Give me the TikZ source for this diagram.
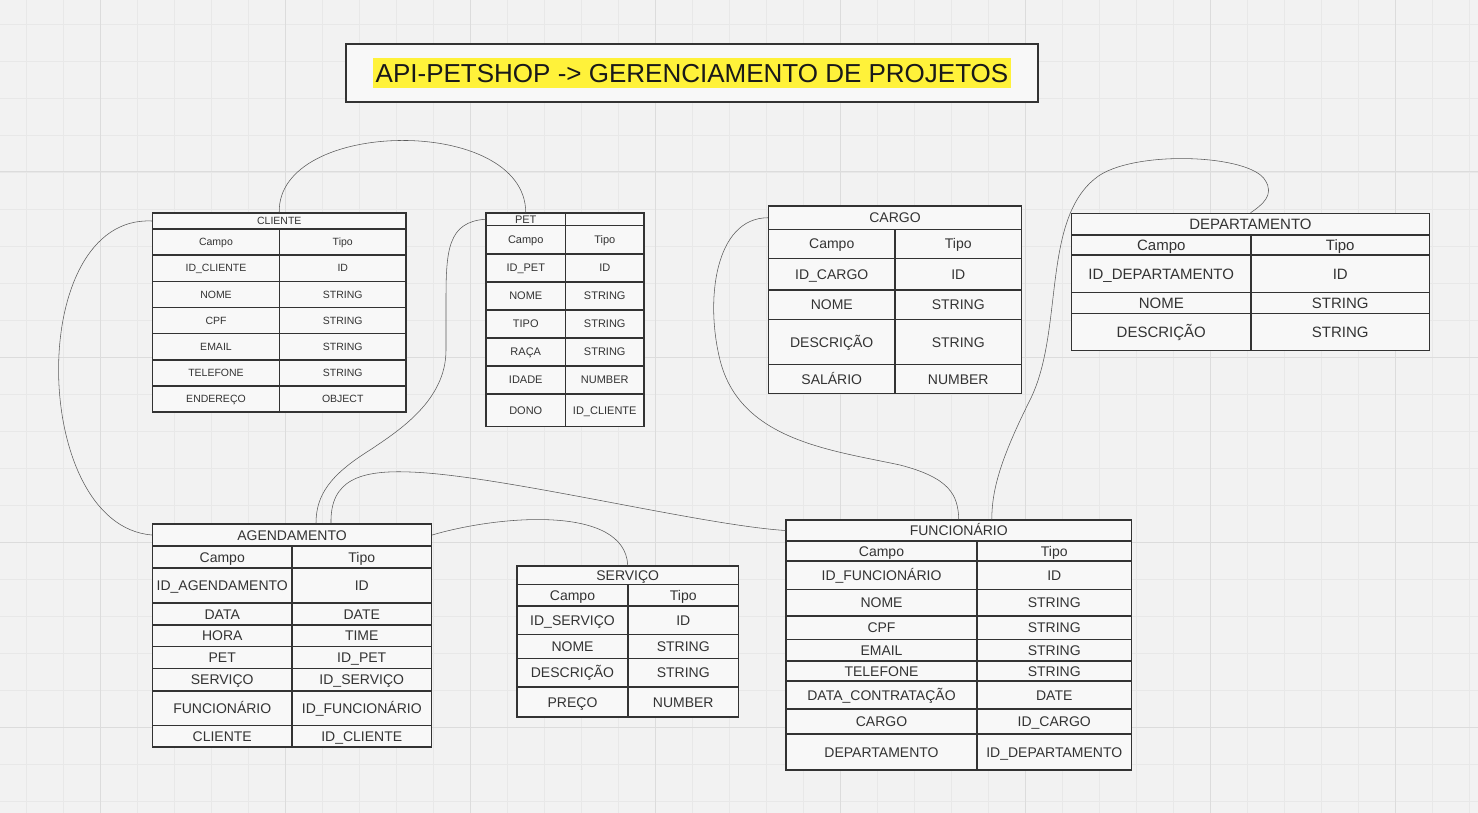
\documentclass[tikz,border=0pt]{standalone}
\usepackage{fontspec}
\setmainfont{Liberation Sans}
\definecolor{bgc}{HTML}{F2F2F2}
\definecolor{minorc}{HTML}{E8E8E8}
\definecolor{majorc}{HTML}{DCDCDC}
\definecolor{linec}{HTML}{333333}
\definecolor{cellfill}{HTML}{F8F8F8}
\definecolor{txtc}{HTML}{333333}
\definecolor{connc}{HTML}{5A5A5A}
\definecolor{hl}{HTML}{FFF23A}
\tikzset{
  cellbox/.style={draw=linec, line width=1.3pt, fill=cellfill, inner sep=0pt, text=txtc, align=center},
  framebox/.style={draw=linec, line width=1.4pt, inner sep=0pt},
  conn/.style={draw=connc, line width=0.55pt},
  titlebox/.style={draw=linec, line width=1.2pt, fill=cellfill, inner sep=0pt},
  capbox/.style={every node/.append style={text height=#1, text depth=0pt}},
}
% cell: name, x0, y0, x1, y1, text
\newcommand\tc[6]{\node[cellbox, minimum width={(#4)-(#2)}, minimum height={(#5)-(#3)}] (#1) at ({((#2)+(#4))/2},{((#3)+(#5))/2}) {#6};}
% row: name, x0, x1, x2, y0, y1, left, right
\newcommand\tr[8]{\tc{#1a}{#2}{#5}{#3}{#6}{#7}\tc{#1b}{#3}{#5}{#4}{#6}{#8}}
% frame: name, x0, y0, x1, y1
\newcommand\tf[5]{\node[framebox, minimum width={(#4)-(#2)}, minimum height={(#5)-(#3)}, text height=0pt] (#1) at ({((#2)+(#4))/2},{((#3)+(#5))/2}) {};}
\begin{document}
\begin{tikzpicture}[x=1pt,y=-1pt]
\useasboundingbox (0,0) rectangle (1478,813);
\fill[bgc] (0,0) rectangle (1478,813);
\foreach \x in {26,63,...,1478} \draw[minorc, line width=0.8pt] (\x,0) -- (\x,813);
\foreach \y in {24,61,...,813} \draw[minorc, line width=0.8pt] (0,\y) -- (1478,\y);
\foreach \x in {100,285,...,1478} \draw[majorc, line width=1pt] (\x,0) -- (\x,813);
\foreach \y in {172,357,...,813} \draw[majorc, line width=1pt] (0,\y) -- (1478,\y);

% title
\node[titlebox, minimum width=692, minimum height=58] (titleframe) at (692,73) {};
\node[fill=hl, inner xsep=3pt, inner ysep=0pt, minimum height=30, text height=18.6pt, text depth=0pt, text=black!90, font=\fontsize{26}{30}\selectfont] (title) at (692,73) {API-PETSHOP -> GERENCIAMENTO DE PROJETOS};

% CLIENTE
\begin{scope}[font=\fontsize{10.5}{12}\selectfont, capbox=7.5pt]
\tc{clt}{152.5}{213}{406}{229}{CLIENTE}
\tr{cl1}{152.5}{279.5}{406}{229}{255}{Campo}{Tipo}
\tr{cl2}{152.5}{279.5}{406}{255}{281.5}{ID\_CLIENTE}{ID}
\tr{cl3}{152.5}{279.5}{406}{281.5}{307.5}{NOME}{STRING}
\tr{cl4}{152.5}{279.5}{406}{307.5}{333.5}{CPF}{STRING}
\tr{cl5}{152.5}{279.5}{406}{333.5}{360}{EMAIL}{STRING}
\tr{cl6}{152.5}{279.5}{406}{360}{386}{TELEFONE}{STRING}
\tr{cl7}{152.5}{279.5}{406}{386}{412}{ENDEREÇO}{OBJECT}
\tf{cliente}{152.5}{213}{406}{412}
\end{scope}

% PET
\begin{scope}[font=\fontsize{11}{13}\selectfont, capbox=7.9pt]
\tr{pett}{486}{565.5}{644}{213}{225.5}{PET}{}
\tr{pe1}{486}{565.5}{644}{225.5}{254}{Campo}{Tipo}
\tr{pe2}{486}{565.5}{644}{254}{282}{ID\_PET}{ID}
\tr{pe3}{486}{565.5}{644}{282}{310}{NOME}{STRING}
\tr{pe4}{486}{565.5}{644}{310}{338}{TIPO}{STRING}
\tr{pe5}{486}{565.5}{644}{338}{366}{RAÇA}{STRING}
\tr{pe6}{486}{565.5}{644}{366}{394}{IDADE}{NUMBER}
\tr{pe7}{486}{565.5}{644}{394}{426.5}{DONO}{ID\_CLIENTE}
\tf{pet}{486}{213}{644}{426.5}
\end{scope}

% CARGO
\begin{scope}[font=\fontsize{14}{16}\selectfont, capbox=10pt]
\tc{cat}{768.5}{206}{1021.5}{229.5}{CARGO}
\tr{ca1}{768.5}{895}{1021.5}{229.5}{258.5}{Campo}{Tipo}
\tr{ca2}{768.5}{895}{1021.5}{258.5}{290}{ID\_CARGO}{ID}
\tr{ca3}{768.5}{895}{1021.5}{290}{319.5}{NOME}{STRING}
\tr{ca4}{768.5}{895}{1021.5}{319.5}{364.5}{DESCRIÇÃO}{STRING}
\tr{ca5}{768.5}{895}{1021.5}{364.5}{393.5}{SALÁRIO}{NUMBER}
\tf{cargo}{768.5}{206}{1021.5}{393.5}
\end{scope}

% DEPARTAMENTO
\begin{scope}[font=\fontsize{15}{17}\selectfont, capbox=10.7pt]
\tc{dpt}{1071.5}{213.5}{1429.5}{235}{DEPARTAMENTO}
\tr{dp1}{1071.5}{1251}{1429.5}{235}{255}{Campo}{Tipo}
\tr{dp2}{1071.5}{1251}{1429.5}{255}{292.5}{ID\_DEPARTAMENTO}{ID}
\tr{dp3}{1071.5}{1251}{1429.5}{292.5}{313.5}{NOME}{STRING}
\tr{dp4}{1071.5}{1251}{1429.5}{313.5}{350.5}{DESCRIÇÃO}{STRING}
\tf{departamento}{1071.5}{213.5}{1429.5}{350.5}
\end{scope}

% AGENDAMENTO
\begin{scope}[font=\fontsize{14}{16}\selectfont, capbox=10pt]
\tc{agt}{152.5}{524}{431.5}{546}{AGENDAMENTO}
\tr{ag1}{152.5}{292}{431.5}{546}{568}{Campo}{Tipo}
\tr{ag2}{152.5}{292}{431.5}{568}{603}{ID\_AGENDAMENTO}{ID}
\tr{ag3}{152.5}{292}{431.5}{603}{625}{DATA}{DATE}
\tr{ag4}{152.5}{292}{431.5}{625}{646.5}{HORA}{TIME}
\tr{ag5}{152.5}{292}{431.5}{646.5}{668.5}{PET}{ID\_PET}
\tr{ag6}{152.5}{292}{431.5}{668.5}{691}{SERVIÇO}{ID\_SERVIÇO}
\tr{ag7}{152.5}{292}{431.5}{691}{725.5}{FUNCIONÁRIO}{ID\_FUNCIONÁRIO}
\tr{ag8}{152.5}{292}{431.5}{725.5}{747}{CLIENTE}{ID\_CLIENTE}
\tf{agendamento}{152.5}{524}{431.5}{747}
\end{scope}

% SERVICO
\begin{scope}[font=\fontsize{14}{16}\selectfont, capbox=10pt]
\tc{svt}{517}{566}{738.5}{584.5}{SERVIÇO}
\tr{sv1}{517}{628}{738.5}{584.5}{606}{Campo}{Tipo}
\tr{sv2}{517}{628}{738.5}{606}{634.5}{ID\_SERVIÇO}{ID}
\tr{sv3}{517}{628}{738.5}{634.5}{658.5}{NOME}{STRING}
\tr{sv4}{517}{628}{738.5}{658.5}{687}{DESCRIÇÃO}{STRING}
\tr{sv5}{517}{628}{738.5}{687}{717}{PREÇO}{NUMBER}
\tf{servico}{517}{566}{738.5}{717}
\end{scope}

% FUNCIONARIO
\begin{scope}[font=\fontsize{14}{16}\selectfont, capbox=10pt]
\tc{fut}{786}{520}{1131.5}{541}{FUNCIONÁRIO}
\tr{fu1}{786}{977}{1131.5}{541}{561}{Campo}{Tipo}
\tr{fu2}{786}{977}{1131.5}{561}{589.5}{ID\_FUNCIONÁRIO}{ID}
\tr{fu3}{786}{977}{1131.5}{589.5}{616}{NOME}{STRING}
\tr{fu4}{786}{977}{1131.5}{616}{639.5}{CPF}{STRING}
\tr{fu5}{786}{977}{1131.5}{639.5}{661}{EMAIL}{STRING}
\tr{fu6}{786}{977}{1131.5}{661}{681}{TELEFONE}{STRING}
\tr{fu7}{786}{977}{1131.5}{681}{709}{DATA\_CONTRATAÇÃO}{DATE}
\tr{fu8}{786}{977}{1131.5}{709}{734}{CARGO}{ID\_CARGO}
\tr{fu9}{786}{977}{1131.5}{734}{770}{DEPARTAMENTO}{ID\_DEPARTAMENTO}
\tf{funcionario}{786}{520}{1131.5}{770}
\end{scope}

% connectors
\draw[conn] (clt.north) .. controls (277,118) and (525,115) .. (petta.north);
\draw[conn] (clt.west) .. controls (25,215) and (30,525) .. (agt.west);
\draw[conn] (petta.west) .. controls (448,222) and (446,250) .. (446,300) -- (446,350)
   .. controls (446,400) and (400,430) .. (370,450)
   .. controls (330,475) and (316,495) .. ([xshift=24pt]agt.north);
\draw[conn] ([xshift=39pt]agt.north) .. controls (330,480) and (360,470) .. (410,472)
   .. controls (500,475) and (700,525) .. (fut.west);
\draw[conn] (agt.east) .. controls (500,515) and (625,505) .. (svt.north);
\draw[conn] (cat.west) .. controls (715,218) and (705,300) .. (720,360)
   .. controls (740,440) and (830,450) .. (900,465)
   .. controls (950,478) and (958,495) .. (fut.north);
\draw[conn] (dpt.north) .. controls (1262,205) and (1275,195) .. (1265,180)
   .. controls (1250,155) and (1140,150) .. (1100,175)
   .. controls (1040,215) and (1065,330) .. (1030,400)
   .. controls (1000,460) and (992,490) .. ([xshift=33pt]fut.north);
\end{tikzpicture}
\end{document}
